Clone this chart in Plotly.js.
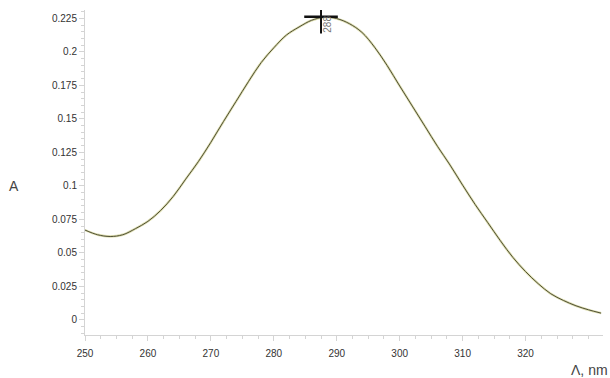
<!DOCTYPE html>
<html>
<head>
<meta charset="utf-8">
<script src="https://cdn.plot.ly/plotly-3.0.1.min.js"></script>
<style>html,body{margin:0;padding:0;background:#fff;}#chart{width:610px;height:378px;}</style>
</head>
<body>
<div id="chart"></div>
<script>
// Wavelength (nm) and absorbance
const wavelength = [250,252,254,256,258,260,262,264,266,268,270,272,274,276,278,280,282,284,286,288,290,292,294,296,298,300,302,304,306,308,310,312,314,316,318,320,322,324,326,328,330,332];
const absorbance = [0.067,0.0635,0.0622,0.0635,0.068,0.0735,0.0815,0.092,0.105,0.118,0.1325,0.148,0.163,0.178,0.192,0.203,0.2125,0.2185,0.2235,0.2258,0.2248,0.221,0.2145,0.2035,0.1898,0.1745,0.1595,0.1445,0.1295,0.1155,0.1005,0.086,0.0725,0.059,0.0465,0.036,0.027,0.0195,0.0145,0.0105,0.0075,0.005];
// Peak marker
const peakX = [287.5];
const peakY = [0.2262];
const peakLabel = ["288"];
// Tick labels
const xTicks = [250,260,270,280,290,300,310,320];
const yTicks = [0,0.025,0.05,0.075,0.1,0.125,0.15,0.175,0.2,0.225];
const yTickText = ["0","0.025","0.05","0.075","0.1","0.125","0.15","0.175","0.2","0.225"];

const axisCol = '#d4d4d4';
const fam = 'Liberation Sans, Arial, sans-serif';
const tickFont = {family: fam, size: 10, color: '#333'};

const traces = [
  {x: wavelength, y: absorbance, type: 'scatter', mode: 'lines',
   line: {color: '#dcdcae', width: 2.4, shape: 'spline'}, hoverinfo: 'skip', showlegend: false},
  {x: wavelength, y: absorbance, type: 'scatter', mode: 'lines',
   line: {color: '#4f4f35', width: 1, shape: 'spline'}, showlegend: false},
  {x: peakX, y: peakY, type: 'scatter', mode: 'markers',
   marker: {symbol: 'line-ew-open', size: 24, color: '#111', line: {color: '#111', width: 2.5}}, showlegend: false},
  {x: peakX, y: peakY, type: 'scatter', mode: 'markers',
   marker: {symbol: 'line-ns-open', size: 24, color: '#111', line: {color: '#111', width: 2}}, showlegend: false}
];

const layout = {
  width: 610, height: 378,
  margin: {l: 85, r: 7, t: 10, b: 43},
  paper_bgcolor: '#fff', plot_bgcolor: '#fff',
  showlegend: false,
  xaxis: {
    range: [250, 332.3], tickvals: xTicks, ticktext: xTicks.map(String),
    showgrid: false, zeroline: false, showline: true, linecolor: axisCol, linewidth: 1,
    ticks: 'outside', ticklen: 5, tickcolor: axisCol, tickfont: tickFont, ticklabelstandoff: 4,
    minor: {dtick: 2.5, ticks: 'outside', ticklen: 3, tickcolor: axisCol, showgrid: false}
  },
  yaxis: {
    range: [-0.0113, 0.2312], tickvals: yTicks, ticktext: yTickText,
    showgrid: false, zeroline: false, showline: true, linecolor: axisCol, linewidth: 1,
    ticks: 'outside', ticklen: 5, tickcolor: axisCol, tickfont: tickFont,
    minor: {dtick: 0.005, ticks: 'outside', ticklen: 3, tickcolor: axisCol, showgrid: false}
  },
  annotations: [
    {x: peakX[0], y: peakY[0], xref: 'x', yref: 'y', text: peakLabel[0], showarrow: false,
     textangle: -90, xshift: 7, yshift: -8, font: {family: fam, size: 10, color: '#777'}},
    {x: -0.137, y: 0.4585, xref: 'paper', yref: 'paper', text: 'A', showarrow: false,
     xanchor: 'center', yanchor: 'middle', font: {family: fam, size: 14, color: '#444'}},
    {x: 1.0135, y: -0.108, xref: 'paper', yref: 'paper', text: 'Λ, nm', showarrow: false,
     xanchor: 'right', yanchor: 'middle', font: {family: fam, size: 14, color: '#444'}}
  ]
};
Plotly.newPlot('chart', traces, layout, {displayModeBar: false, staticPlot: true});
</script>
</body>
</html>
